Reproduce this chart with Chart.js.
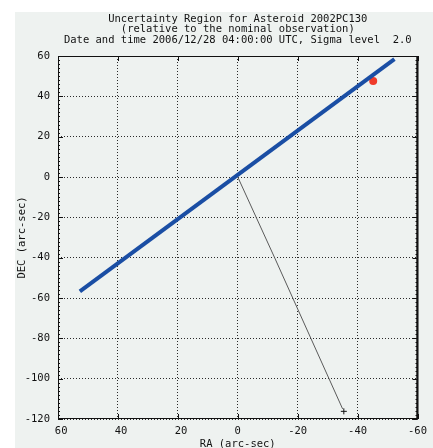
<!DOCTYPE html>
<html>
<head>
<meta charset="utf-8">
<script src="https://cdn.jsdelivr.net/npm/chart.js@4/dist/chart.umd.min.js"></script>
<style>
  html, body { margin: 0; padding: 0; background: #fff; overflow: hidden; }
  #frame { position: absolute; left: 15px; top: 12px; width: 418px; height: 436px; background: #eef2f0; overflow: hidden; }
  #chart { display: block; width: 418px; height: 444px; }
</style>
</head>
<body>
<div id="frame"><canvas id="chart" width="418" height="444"></canvas></div>
<script>
// Chart data
const titleLines = [
    'Uncertainty Region for Asteroid 2002PC130',
    '(relative to the nominal observation)',
    'Date and time 2006/12/28 04:00:00 UTC, Sigma level  2.0'
];
const raTicks = [60, 40, 20, 0, -20, -40, -60];
const decTicks = [60, 40, 20, 0, -20, -40, -60, -80, -100, -120];

// uncertainty region (blue line)
const regionRA = [52.7, -52.3];
const regionDEC = [-56.7, 58.5];
// nominal position (red dot)
const nominalRA = [-45.2];
const nominalDEC = [47.6];
// offset track (thin line) and its end marker
const trackRA = [0, -12.3, -24.4, -35];
const trackDEC = [0, -40, -80, -115];
const endRA = [-35.4];
const endDEC = [-116.2];

const FONT = 'DejaVu Sans Mono';
const TEXT = '#111';

function toPoints(xs, ys) {
    return xs.map((x, i) => ({ x: x, y: ys[i] }));
}

// Title text above the plot
const titlePlugin = {
    id: 'titleLines',
    afterDraw(chart) {
        const { ctx, chartArea } = chart;
        const cx = (chartArea.left + chartArea.right) / 2;
        ctx.save();
        ctx.font = '10.5px "' + FONT + '"';
        ctx.fillStyle = TEXT;
        ctx.textAlign = 'center';
        ctx.textBaseline = 'middle';
        titleLines.forEach((line, i) => {
            ctx.fillText(line, cx, 7 + i * 10.5);
        });
        ctx.restore();
    }
};

// Box around the plot with inward tick marks
const boxPlugin = {
    id: 'box',
    afterDraw(chart) {
        const { ctx, chartArea: a, scales } = chart;
        const x = scales.x, y = scales.y;
        ctx.save();
        ctx.strokeStyle = '#111';
        ctx.lineWidth = 1;
        ctx.strokeRect(a.left + 0.5, a.top + 0.5, a.right - a.left - 1, a.bottom - a.top - 1);
        ctx.beginPath();
        raTicks.forEach(v => {
            const px = Math.round(x.getPixelForValue(v)) + 0.5;
            ctx.moveTo(px, a.bottom); ctx.lineTo(px, a.bottom - 5);
            ctx.moveTo(px, a.top); ctx.lineTo(px, a.top + 5);
        });
        decTicks.forEach(v => {
            const py = Math.round(y.getPixelForValue(v)) + 0.5;
            ctx.moveTo(a.left, py); ctx.lineTo(a.left + 5, py);
            ctx.moveTo(a.right, py); ctx.lineTo(a.right - 5, py);
        });
        // minor ticks on the DEC sides
        for (let v = -120; v <= 60; v += 2) {
            const py = Math.round(y.getPixelForValue(v)) + 0.5;
            ctx.moveTo(a.left, py); ctx.lineTo(a.left + 2, py);
            ctx.moveTo(a.right, py); ctx.lineTo(a.right - 2, py);
        }
        ctx.stroke();
        // heavier right edge
        ctx.fillStyle = '#111';
        ctx.fillRect(a.right - 1, a.top, 2, a.bottom - a.top);
        ctx.restore();
    }
};

new Chart(document.getElementById('chart').getContext('2d'), {
    type: 'scatter',
    data: {
        datasets: [
            {
                data: toPoints(regionRA, regionDEC),
                showLine: true,
                borderColor: '#1a4ea4',
                borderWidth: 4,
                pointRadius: 0,
                borderCapStyle: 'butt'
            },
            {
                data: toPoints(trackRA, trackDEC),
                showLine: true,
                borderColor: '#5a5a5a',
                borderWidth: 1,
                pointRadius: 0
            },
            {
                data: toPoints(nominalRA, nominalDEC),
                backgroundColor: '#ef3b2a',
                borderWidth: 0,
                pointRadius: 4
            },
            {
                data: toPoints(endRA, endDEC),
                pointStyle: 'cross',
                borderColor: '#111',
                borderWidth: 1,
                pointRadius: 3
            }
        ]
    },
    options: {
        responsive: false,
        animation: false,
        layout: { padding: { top: 44, right: 12, left: 0, bottom: 0 } },
        plugins: {
            legend: { display: false },
            tooltip: { enabled: false }
        },
        scales: {
            x: {
                type: 'linear',
                reverse: true,
                min: -60,
                max: 60,
                afterBuildTicks: scale => { scale.ticks = raTicks.map(v => ({ value: v })); },
                afterFit: scale => { scale.height = 37; },
                grid: { color: '#2a2a2a', lineWidth: 1, drawTicks: false, borderDash: [1, 2] },
                border: { display: false, dash: [1, 2] },
                ticks: {
                    padding: 6,
                    color: TEXT,
                    font: { family: FONT, size: 10.5 },
                    maxRotation: 0,
                    callback: v => (v > 0 ? ' ' + v : '' + v)
                },
                title: {
                    display: true,
                    text: 'RA (arc-sec)',
                    color: TEXT,
                    font: { family: FONT, size: 10.5 },
                    padding: { top: 0, bottom: 5 }
                }
            },
            y: {
                type: 'linear',
                min: -120,
                max: 60,
                afterBuildTicks: scale => { scale.ticks = decTicks.map(v => ({ value: v })); },
                afterFit: scale => { scale.width = 43; },
                grid: { color: '#2a2a2a', lineWidth: 1, drawTicks: false, borderDash: [1, 2] },
                border: { display: false, dash: [1, 2] },
                ticks: {
                    padding: 8,
                    color: TEXT,
                    font: { family: FONT, size: 10.5 }
                },
                title: {
                    display: true,
                    text: 'DEC (arc-sec)',
                    color: TEXT,
                    font: { family: FONT, size: 10.5 },
                    padding: { top: 1, bottom: 0 }
                }
            }
        }
    },
    plugins: [titlePlugin, boxPlugin]
});
</script>
</body>
</html>
